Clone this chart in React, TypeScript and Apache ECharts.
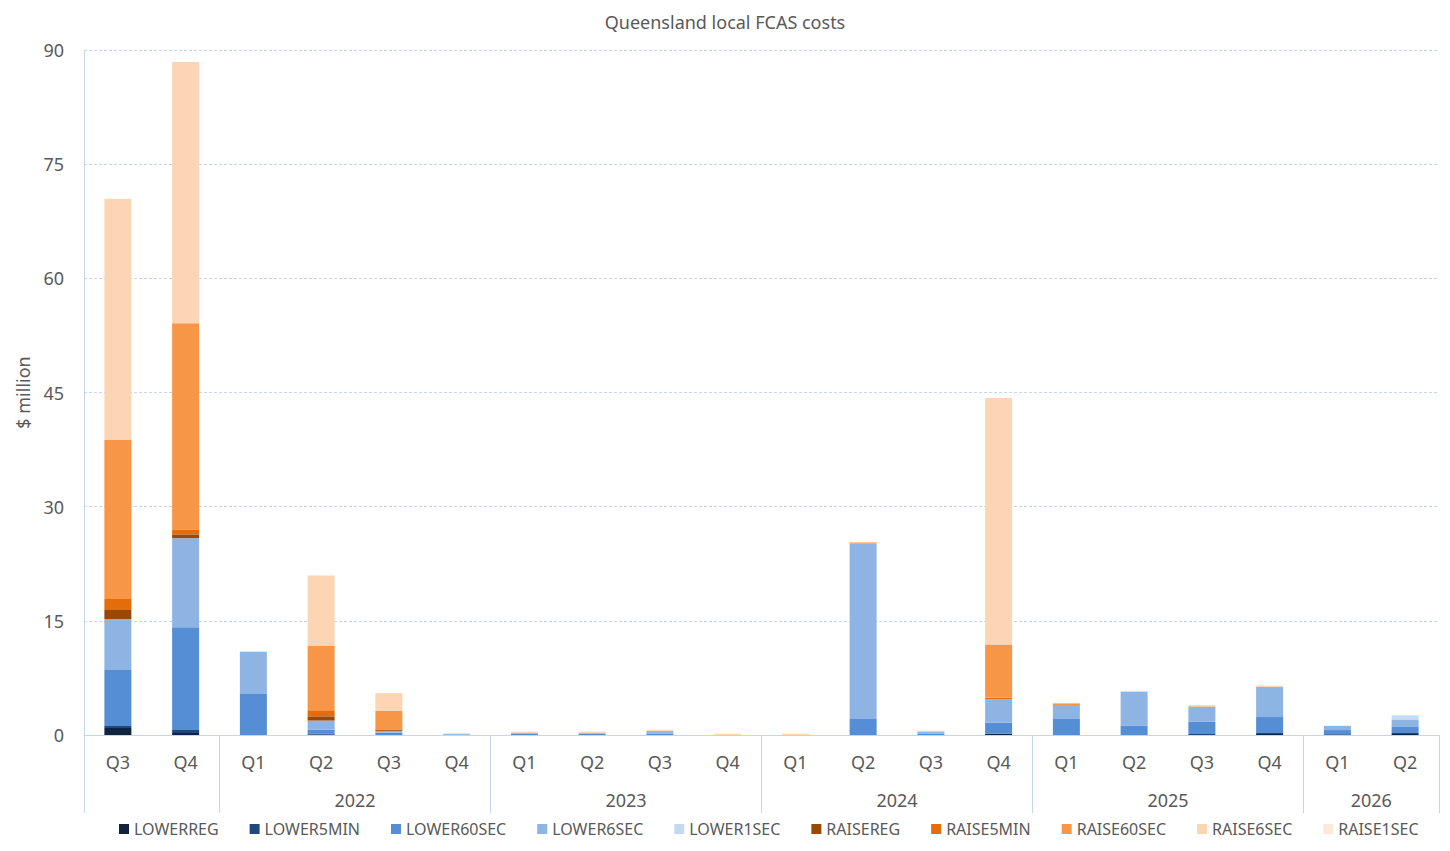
import { useEffect, useRef } from 'react';
import * as echarts from 'echarts';

const quarters = [
  'Q3', 'Q4',
  'Q1', 'Q2', 'Q3', 'Q4',
  'Q1', 'Q2', 'Q3', 'Q4',
  'Q1', 'Q2', 'Q3', 'Q4',
  'Q1', 'Q2', 'Q3', 'Q4',
  'Q1', 'Q2',
];

// year labels sit on a half-quarter axis (41 points, 0..40)
const yearLabels: Record<number, string> = { 8: '2022', 16: '2023', 24: '2024', 32: '2025', 38: '2026' };
const yearBreaks = [0, 4, 12, 20, 28, 36, 40];

const seriesNames = [
  'LOWERREG', 'LOWER5MIN', 'LOWER60SEC', 'LOWER6SEC', 'LOWER1SEC',
  'RAISEREG', 'RAISE5MIN', 'RAISE60SEC', 'RAISE6SEC', 'RAISE1SEC',
];

const seriesColors = [
  '#10243e', '#1f487c', '#558ed5', '#8eb4e3', '#c6d9f1',
  '#984807', '#e46c0a', '#f79646', '#fcd5b5', '#fde9d9',
];

const lowerReg = [0.92, 0.26, 0, 0.05, 0, 0, 0, 0, 0, 0, 0, 0, 0, 0.15, 0, 0, 0, 0.13, 0, 0.13];
const lower5min = [0.26, 0.4, 0, 0.15, 0, 0, 0, 0, 0, 0, 0, 0, 0, 0.05, 0, 0, 0.13, 0.13, 0.1, 0.13];
const lower60sec = [7.36, 13.5, 5.4, 0.5, 0.3, 0.02, 0.15, 0.15, 0.15, 0, 0, 2.1, 0.15, 1.4, 2.1, 1.2, 1.6, 2.1, 0.55, 0.79];
const lower6sec = [6.7, 11.7, 5.5, 1.2, 0.25, 0.15, 0.1, 0.1, 0.35, 0, 0, 23.1, 0.3, 3.1, 1.84, 4.45, 2.0, 3.94, 0.53, 0.92];
const lower1sec = [0, 0, 0, 0, 0, 0, 0, 0, 0, 0, 0, 0, 0, 0, 0, 0, 0, 0, 0, 0.53];
const raiseReg = [1.18, 0.5, 0, 0.55, 0.15, 0, 0, 0, 0, 0, 0, 0, 0, 0, 0, 0, 0, 0, 0, 0];
const raise5min = [1.45, 0.65, 0, 0.8, 0.05, 0, 0, 0, 0, 0, 0, 0, 0, 0.18, 0, 0, 0, 0, 0, 0];
const raise60sec = [20.9, 27.1, 0, 8.5, 2.4, 0, 0.05, 0.05, 0.03, 0, 0, 0.1, 0.02, 7.0, 0.22, 0.02, 0.05, 0.05, 0, 0];
const raise6sec = [31.7, 34.3, 0.1, 9.2, 2.35, 0, 0.15, 0.15, 0.15, 0.15, 0.15, 0.05, 0.1, 32.4, 0.05, 0.13, 0.13, 0.13, 0.05, 0.1];
const raise1sec = [0, 0, 0, 0, 0, 0, 0, 0, 0, 0, 0, 0, 0, 0, 0, 0, 0, 0, 0, 0.05];

const seriesValues = [
  lowerReg, lower5min, lower60sec, lower6sec, lower1sec,
  raiseReg, raise5min, raise60sec, raise6sec, raise1sec,
];

const FONT = '"Noto Sans", "Open Sans", sans-serif';
const TEXT = '#595959';
const LINE = '#c5d5ea';

export default function App() {
  const chartRef = useRef<HTMLDivElement>(null);

  useEffect(() => {
    if (!chartRef.current) return;
    const chart = echarts.init(chartRef.current, undefined, { renderer: 'svg' });

    const halfSteps = Array.from({ length: 41 }, (_, i) => yearLabels[i] ?? '');

    const option: echarts.EChartsOption = {
      animation: false,
      textStyle: { fontFamily: FONT, color: TEXT },
      title: {
        text: 'Queensland local FCAS costs',
        left: 'center',
        top: 8,
        textStyle: { fontFamily: FONT, fontSize: 18, fontWeight: 'normal', color: TEXT },
      },
      legend: {
        data: seriesNames,
        bottom: 9,
        left: 114,
        icon: 'rect',
        itemWidth: 10,
        itemHeight: 10,
        itemGap: 31,
        textStyle: { fontFamily: FONT, fontSize: 16, color: TEXT },
      },
      grid: { left: 84, right: 11, top: 50, bottom: 116 },
      xAxis: [
        {
          type: 'category',
          data: quarters,
          axisLine: { lineStyle: { color: LINE } },
          axisTick: { show: false },
          axisLabel: { fontFamily: FONT, fontSize: 18, color: TEXT, margin: 18 },
        },
        {
          type: 'category',
          data: halfSteps,
          position: 'bottom',
          boundaryGap: false,
          axisLine: { show: false },
          axisTick: {
            show: true,
            length: 78,
            interval: (index: number) => yearBreaks.includes(index),
            lineStyle: { color: LINE },
          },
          axisLabel: {
            fontFamily: FONT,
            fontSize: 18,
            color: TEXT,
            margin: 56,
            interval: (index: number) => yearLabels[index] !== undefined,
          },
        },
      ],
      yAxis: {
        type: 'value',
        min: 0,
        max: 90,
        interval: 15,
        name: '$ million',
        nameLocation: 'middle',
        nameGap: 52,
        nameTextStyle: { fontFamily: FONT, fontSize: 18, color: TEXT },
        axisLine: { show: true, lineStyle: { color: LINE } },
        axisTick: { show: false },
        axisLabel: { fontFamily: FONT, fontSize: 18, color: TEXT, margin: 20 },
        splitLine: { lineStyle: { color: LINE, type: [3, 2] } },
      },
      series: seriesNames.map((name, i) => ({
        name,
        type: 'bar',
        stack: 'total',
        xAxisIndex: 0,
        barWidth: 27,
        data: seriesValues[i],
        itemStyle: { color: seriesColors[i] },
      })),
    };

    chart.setOption(option);

    const handleResize = () => chart.resize();
    window.addEventListener('resize', handleResize);
    return () => {
      window.removeEventListener('resize', handleResize);
      chart.dispose();
    };
  }, []);

  return (
    <div
      ref={chartRef}
      style={{ position: 'fixed', left: 0, top: 0, width: '1450px', height: '851px', background: '#fff' }}
    />
  );
}
